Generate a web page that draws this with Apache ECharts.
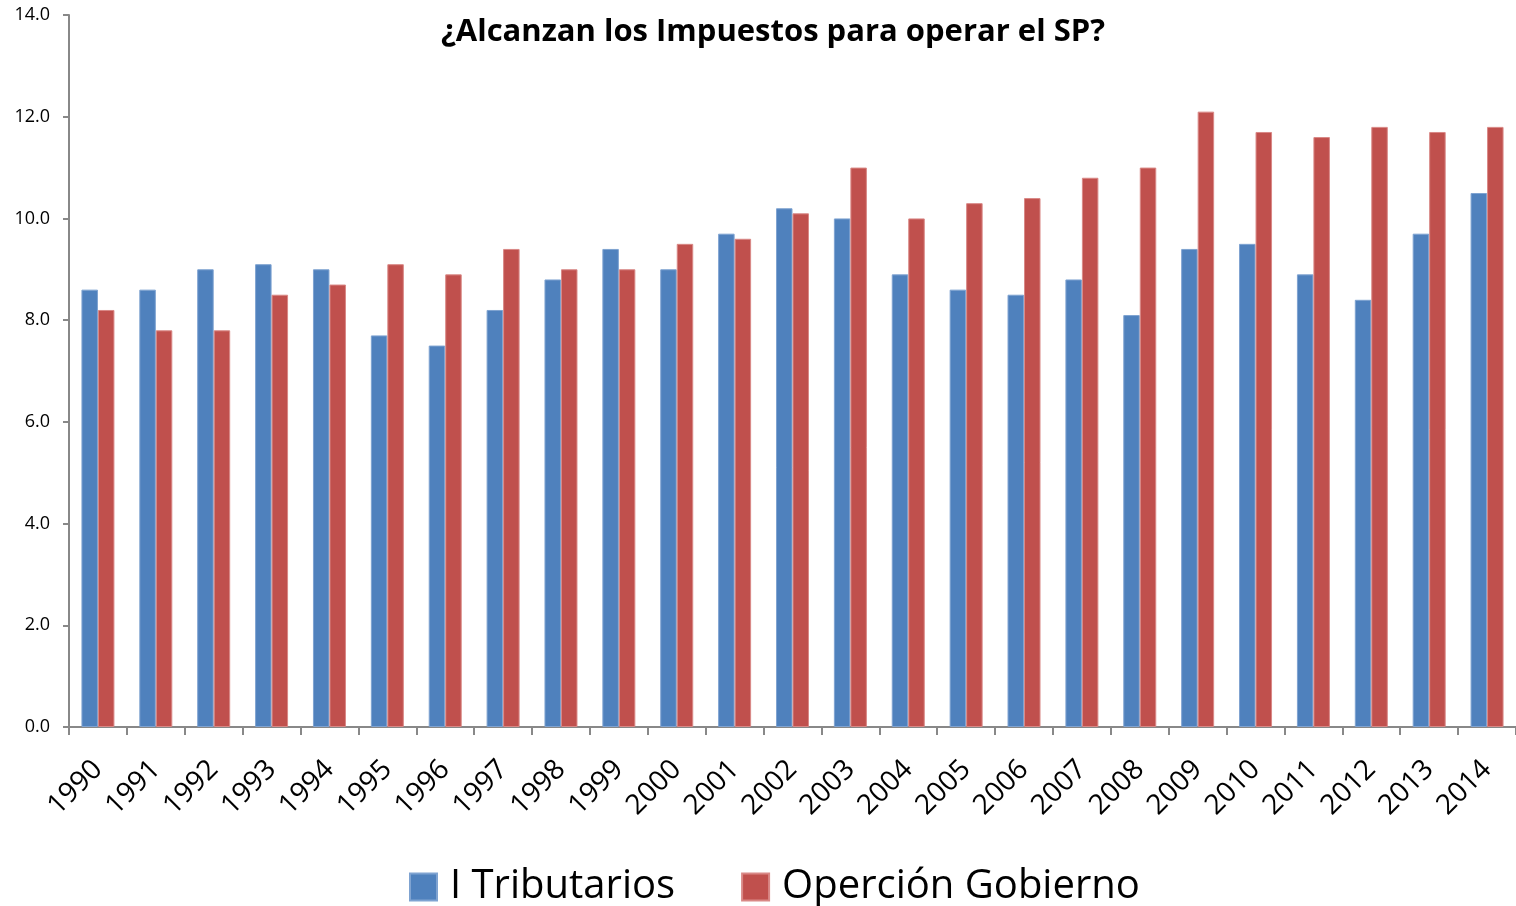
<!DOCTYPE html>
<html>
<head>
<meta charset="utf-8">
<script src="https://cdn.jsdelivr.net/npm/echarts@6/dist/echarts.min.js"></script>
<style>
html,body{margin:0;padding:0;background:#fff;}
#chart{width:1516px;height:906px;}
</style>
</head>
<body>
<div id="chart"></div>
<script>
const years = ['1990','1991','1992','1993','1994','1995','1996','1997','1998','1999','2000','2001','2002','2003','2004','2005','2006','2007','2008','2009','2010','2011','2012','2013','2014'];
const tributarios = [8.6,8.6,9.0,9.1,9.0,7.7,7.5,8.2,8.8,9.4,9.0,9.7,10.2,10.0,8.9,8.6,8.5,8.8,8.1,9.4,9.5,8.9,8.4,9.7,10.5];
const gobierno = [8.2,7.8,7.8,8.5,8.7,9.1,8.9,9.4,9.0,9.0,9.5,9.6,10.1,11.0,10.0,10.3,10.4,10.8,11.0,12.1,11.7,11.6,11.8,11.7,11.8];
const titleText = '¿Alcanzan los Impuestos para operar el SP?';
const seriesNames = ['I Tributarios','Operción Gobierno'];

const font = '"Open Sans", Lato, sans-serif';
const chart = echarts.init(document.getElementById('chart'));
chart.setOption({
  animation:false,
  title:{text:titleText,left:768,textAlign:'center',top:12,textStyle:{fontFamily:font,fontSize:31,fontWeight:'bold',color:'#000'}},
  legend:{data:seriesNames,left:404,top:862,itemWidth:27,itemHeight:27,itemGap:66,icon:'rect',
    textStyle:{fontFamily:font,fontSize:40,color:'#000',padding:[0,0,0,8]}},
  grid:{left:69,right:0,top:15,bottom:179,containLabel:false},
  xAxis:{type:'category',data:years,
    axisLine:{lineStyle:{color:'#888',width:2}},
    axisTick:{show:true,length:8,lineStyle:{color:'#888',width:2}},
    axisLabel:{rotate:45,fontFamily:font,fontSize:28,color:'#000',margin:38}},
  yAxis:{type:'value',min:0,max:14,interval:2,
    axisLine:{show:true,lineStyle:{color:'#888',width:2}},
    axisTick:{show:true,length:6,lineStyle:{color:'#888',width:2}},
    splitLine:{show:false},
    axisLabel:{fontFamily:font,fontSize:18,color:'#000',margin:19,formatter:v=>v.toFixed(1)}},
  series:[
    {name:seriesNames[0],type:'bar',data:tributarios,barGap:'0%',barCategoryGap:'43%',
      itemStyle:{color:'#4F81BD',borderColor:'#7FA3D1',borderWidth:1}},
    {name:seriesNames[1],type:'bar',data:gobierno,barGap:'0%',barCategoryGap:'43%',
      itemStyle:{color:'#C0504D',borderColor:'#D98886',borderWidth:1}}
  ]
});
</script>
</body>
</html>
